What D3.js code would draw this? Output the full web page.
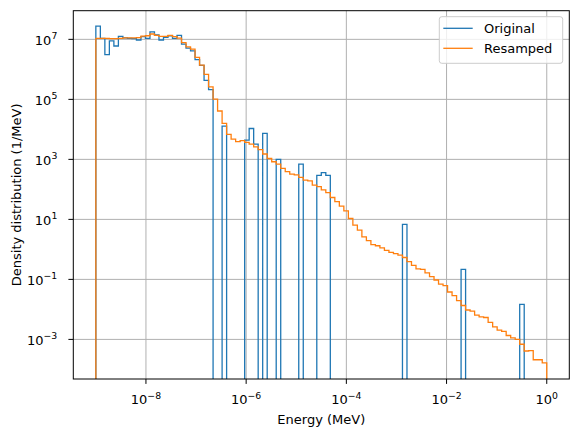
<!DOCTYPE html>
<html>
<head>
<meta charset="utf-8">
<script src="https://cdn.jsdelivr.net/npm/d3@7"></script>
<style>
  body { margin: 0; background: #fff; }
  text { font-family: "DejaVu Sans", sans-serif; }
</style>
</head>
<body>
<div id="chart"></div>
<script>
// histogram bin edges (log spaced 1e-9 .. 1e0, 100 bins)
const binCount = 100;
const edgeExpMin = -9, edgeExpMax = 0;

// density per bin (0 = empty bin)
const original = [
  2.75e7, 1.07e7, 3.1e6, 8.9e6, 6.0e6, 1.26e7, 1.12e7, 1.07e7, 1.05e7, 9.5e6,
  1.23e7, 1.07e7, 1.78e7, 1.41e7, 9.5e6, 1.17e7, 1.32e7, 1.07e7, 1.35e7, 6.9e6,
  5.1e6, 4.1e6, 2.1e6, 1.35e6, 4.3e5, 2.1e5, 0, 0, 1.29e4, 0,
  0, 0, 0, 4.4e3, 1.07e4, 3.2e3, 0, 7.4e3, 0, 0,
  1.0e3, 0, 0, 0, 0, 692, 0, 0, 0, 295,
  363, 295, 0, 0, 0, 0, 0, 0, 0, 0,
  0, 0, 0, 0, 0, 0, 0, 0, 6.8, 0,
  0, 0, 0, 0, 0, 0, 0, 0, 0, 0,
  0, 0.214, 0, 0, 0, 0, 0, 0, 0, 0,
  0, 0, 0, 0, 0.0148, 0, 0, 0, 0, 0
];

const resampled = [
  1.07e7, 1.07e7, 1.07e7, 1.05e7, 1.05e7, 1.07e7, 1.12e7, 1.12e7, 1.12e7, 1.15e7,
  1.29e7, 1.32e7, 1.51e7, 1.35e7, 1.26e7, 1.26e7, 1.35e7, 1.23e7, 1.10e7, 7.8e6,
  5.6e6, 4.7e6, 2.5e6, 1.38e6, 6.8e5, 2.6e5, 1.02e5, 4.1e4, 1.58e4, 6.8e3,
  4.7e3, 3.9e3, 4.2e3, 3.7e3, 3.2e3, 2.6e3, 2.1e3, 1.51e3, 1.07e3, 832,
  692, 501, 389, 324, 302, 251, 204, 191, 138, 123,
  95.5, 77.6, 53.7, 38.9, 27.5, 19.1, 10.7, 6.46, 4.37, 2.63,
  1.95, 1.45, 1.32, 1.12, 0.933, 0.794, 0.724, 0.646, 0.537, 0.389,
  0.295, 0.224, 0.214, 0.166, 0.123, 0.0955, 0.0692, 0.0617, 0.0380, 0.0288,
  0.0195, 0.0135, 0.00955, 0.00871, 0.00646, 0.00562, 0.00537, 0.00372, 0.00263, 0.00204,
  0.00186, 0.00135, 0.00112, 0.00100, 6.9e-4, 4.1e-4, 4.2e-4, 2.1e-4, 2.1e-4, 1.66e-4
];

const seriesNames = ["Original", "Resamped"];
const seriesColors = ["#1f77b4", "#ff7f0e"];

const xTickExps = [-8, -6, -4, -2, 0];
const yTickExps = [-3, -1, 1, 3, 5, 7];

// layout
const W = 578, H = 437;
const plot = {left: 73.3, top: 10.7, right: 569.3, bottom: 379};
const fontSize = 13;

const svg = d3.select("#chart").append("svg")
  .attr("width", W)
  .attr("height", H);

const x = d3.scaleLog()
  .domain([Math.pow(10, -9.45), Math.pow(10, 0.45)])
  .range([plot.left, plot.right]);

const y = d3.scaleLog()
  .domain([Math.pow(10, -4.32), Math.pow(10, 7.955)])
  .range([plot.bottom, plot.top]);

const edges = d3.range(binCount + 1)
  .map(i => Math.pow(10, edgeExpMin + (edgeExpMax - edgeExpMin) * i / binCount));

// clip
svg.append("clipPath").attr("id", "plotclip")
  .append("rect")
  .attr("x", plot.left).attr("y", plot.top)
  .attr("width", plot.right - plot.left)
  .attr("height", plot.bottom - plot.top);

// grid
const grid = svg.append("g");
grid.selectAll(".gx").data(xTickExps).enter().append("line")
  .attr("x1", d => x(Math.pow(10, d))).attr("x2", d => x(Math.pow(10, d)))
  .attr("y1", plot.top).attr("y2", plot.bottom)
  .attr("stroke", "#b0b0b0").attr("stroke-width", 1);
grid.selectAll(".gy").data(yTickExps).enter().append("line")
  .attr("y1", d => y(Math.pow(10, d))).attr("y2", d => y(Math.pow(10, d)))
  .attr("x1", plot.left).attr("x2", plot.right)
  .attr("stroke", "#b0b0b0").attr("stroke-width", 1);

// step outline of a histogram; empty bins fall below the axis
const floorVal = 1e-12;
function stepPoints(values) {
  const pts = [[edges[0], floorVal]];
  values.forEach((v, i) => {
    const vv = v > 0 ? v : floorVal;
    pts.push([edges[i], vv]);
    pts.push([edges[i + 1], vv]);
  });
  pts.push([edges[binCount], floorVal]);
  return pts;
}

const line = d3.line()
  .x(d => x(d[0]))
  .y(d => Math.min(y(d[1]), plot.bottom + 20));

const marks = svg.append("g").attr("clip-path", "url(#plotclip)");
[original, resampled].forEach((vals, k) => {
  marks.append("path")
    .attr("d", line(stepPoints(vals)))
    .attr("fill", "none")
    .attr("stroke", seriesColors[k])
    .attr("stroke-width", 1.3)
    .attr("stroke-linejoin", "miter");
});

// axes frame
svg.append("rect")
  .attr("x", plot.left).attr("y", plot.top)
  .attr("width", plot.right - plot.left)
  .attr("height", plot.bottom - plot.top)
  .attr("fill", "none").attr("stroke", "#000").attr("stroke-width", 1);

function expLabel(sel, e) {
  sel.append("tspan").text("10");
  sel.append("tspan")
    .attr("dy", -5.8)
    .attr("font-size", 9.3)
    .text(e < 0 ? "\u2212" + Math.abs(e) : String(e));
}

// x ticks
const xt = svg.append("g").selectAll("g").data(xTickExps).enter().append("g")
  .attr("transform", d => `translate(${x(Math.pow(10, d))},${plot.bottom})`);
xt.append("line").attr("y1", 0).attr("y2", 4.9)
  .attr("stroke", "#000").attr("stroke-width", 1);
xt.append("text")
  .attr("y", 404.3 - plot.bottom)
  .attr("text-anchor", "middle")
  .attr("font-size", fontSize)
  .attr("fill", "#000")
  .each(function(d) { expLabel(d3.select(this), d); });

// y ticks
const yt = svg.append("g").selectAll("g").data(yTickExps).enter().append("g")
  .attr("transform", d => `translate(${plot.left},${y(Math.pow(10, d))})`);
yt.append("line").attr("x1", 0).attr("x2", -4.9)
  .attr("stroke", "#000").attr("stroke-width", 1);
yt.append("text")
  .attr("x", -16)
  .attr("y", 5.8)
  .attr("text-anchor", "end")
  .attr("font-size", fontSize)
  .attr("fill", "#000")
  .each(function(d) { expLabel(d3.select(this), d); });

// axis titles
svg.append("text")
  .attr("x", (plot.left + plot.right) / 2)
  .attr("y", 424.3)
  .attr("text-anchor", "middle")
  .attr("font-size", fontSize)
  .text("Energy (MeV)");

svg.append("text")
  .attr("transform", `translate(20.5,${(plot.top + plot.bottom) / 2}) rotate(-90)`)
  .attr("text-anchor", "middle")
  .attr("font-size", fontSize)
  .text("Density distribution (1/MeV)");

// legend
const legend = svg.append("g");
legend.append("rect")
  .attr("x", 439.3).attr("y", 16.7)
  .attr("width", 123.4).attr("height", 46.6)
  .attr("rx", 2.5)
  .attr("fill", "#fff").attr("fill-opacity", 0.8)
  .attr("stroke", "#cccccc").attr("stroke-width", 1);

const li = legend.selectAll(".item").data(seriesNames).enter().append("g")
  .attr("transform", (d, i) => `translate(0,${28.3 + i * 20})`);
li.append("line")
  .attr("x1", 443.3).attr("x2", 472.7)
  .attr("stroke", (d, i) => seriesColors[i])
  .attr("stroke-width", 1.3);
li.append("text")
  .attr("x", 484).attr("y", 4.7)
  .attr("font-size", fontSize)
  .text(d => d);
</script>
</body>
</html>
